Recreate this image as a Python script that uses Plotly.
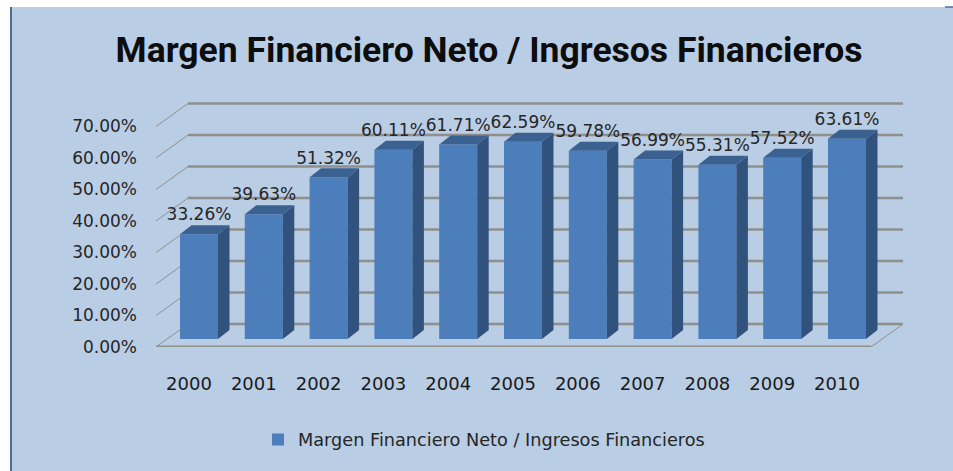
import plotly.graph_objects as go

years = [2000, 2001, 2002, 2003, 2004, 2005, 2006, 2007, 2008, 2009, 2010]
values = [33.26, 39.63, 51.32, 60.11, 61.71, 62.59, 59.78, 56.99, 55.31, 57.52, 63.61]
y_ticks = [0, 10, 20, 30, 40, 50, 60, 70]
series_name = "Margen Financiero Neto / Ingresos Financieros"

W, H = 953, 471
L, R, T, B = 156, 903, 90, 347
PX_Y = 3.15            # pixels per percentage point
PX_X = 64.8            # pixels per year
X0 = 2000 - (199 - L) / PX_X
X1 = X0 + (R - L) / PX_X
Y1 = (B - T) / PX_Y

WALL_DX, WALL_DY = 32 / PX_X, 23 / PX_Y       # floor depth
BASE = 8 / PX_Y                               # bars stand part-way into the floor
BAR_W = 38 / PX_X
BAR_DX, BAR_DY = 11.5 / PX_X, 9 / PX_Y        # bar depth
LABEL_UP = 18 / PX_Y
TICK_SHIFT = 10 / PX_X

FRONT, SIDE, TOP = "#4c7ebb", "#30527c", "#3a6190"
PANEL = "#b9cde5"
GRID = "#8f8f8c"
TEXT = "#262626"
FONT = "DejaVu Sans"


def px(x):
    return (x - L) / (R - L)


def py(y):
    return (B - y) / (B - T)


fig = go.Figure()
fig.add_bar(
    x=years, y=values, base=[BASE] * len(values), width=BAR_W,
    marker=dict(color=FRONT, line=dict(width=0)),
    name=series_name, showlegend=True, hoverinfo="skip",
)

for yr, v in zip(years, values):
    l, r = yr - BAR_W / 2, yr + BAR_W / 2
    t = BASE + v
    fig.add_scatter(x=[r, r + BAR_DX, r + BAR_DX, r, r], y=[BASE, BASE + BAR_DY, t + BAR_DY, t, BASE],
                    mode="lines", fill="toself", fillcolor=SIDE, line=dict(width=0),
                    showlegend=False, hoverinfo="skip")
    fig.add_scatter(x=[l, l + BAR_DX, r + BAR_DX, r, l], y=[t, t + BAR_DY, t + BAR_DY, t, t],
                    mode="lines", fill="toself", fillcolor=TOP, line=dict(width=0),
                    showlegend=False, hoverinfo="skip")

fig.add_scatter(
    x=years, y=[BASE + v + LABEL_UP for v in values],
    text=[f"{v:.2f}%" for v in values], mode="text", textposition="middle center",
    textfont=dict(family=FONT, size=17, color=TEXT), showlegend=False, hoverinfo="skip",
)

shapes = [
    dict(type="rect", xref="paper", yref="paper", x0=px(11), x1=px(W), y0=py(H), y1=py(7),
         fillcolor=PANEL, line=dict(width=0), layer="below"),
    dict(type="line", xref="paper", yref="paper", x0=px(11), x1=px(11), y0=py(H), y1=py(7),
         line=dict(color="#4a6d9c", width=2), layer="below"),
    dict(type="line", xref="paper", yref="paper", x0=px(945), x1=px(W), y0=py(7), y1=py(7),
         line=dict(color="#4a6d9c", width=1.5), layer="below"),
]
for v in y_ticks:
    shapes.append(dict(type="line", x0=X0, y0=v, x1=X0 + WALL_DX, y1=v + WALL_DY,
                       line=dict(color=GRID, width=1), layer="below"))
    shapes.append(dict(type="line", x0=X0 + WALL_DX, y0=v + WALL_DY, x1=X1, y1=v + WALL_DY,
                       line=dict(color=GRID, width=2.5), layer="below"))
floor_right = X1 - WALL_DX
shapes.append(dict(type="line", x0=X0, y0=0, x1=floor_right, y1=0,
                   line=dict(color=GRID, width=3), layer="below"))
shapes.append(dict(type="line", x0=floor_right, y0=0, x1=X1, y1=WALL_DY,
                   line=dict(color=GRID, width=1), layer="below"))

fig.update_layout(
    width=W, height=H,
    margin=dict(l=L, r=W - R, t=T, b=H - B, pad=0),
    paper_bgcolor="white", plot_bgcolor="rgba(0,0,0,0)",
    shapes=shapes,
    title=dict(text="<b>" + series_name + "</b>", x=489 / W, xanchor="center",
               y=1 - 50 / H, yanchor="middle",
               font=dict(family="Roboto", size=35.5, color="#0d0d0d")),
    legend=dict(orientation="h", x=px(258), xanchor="left", y=py(440), yanchor="middle",
                bgcolor="rgba(0,0,0,0)", font=dict(family=FONT, size=17.7, color=TEXT),
                itemclick=False, itemdoubleclick=False),
    xaxis=dict(range=[X0, X1], tickmode="array", tickvals=[y - TICK_SHIFT for y in years],
               ticktext=[str(y) for y in years], showgrid=False, zeroline=False, showline=False,
               ticks="", ticklabelstandoff=24, tickfont=dict(family=FONT, size=18, color="#1a1a1a")),
    yaxis=dict(range=[0, Y1], tickmode="array", tickvals=y_ticks,
               ticktext=[f"{v:.2f}%" for v in y_ticks], showgrid=False, zeroline=False, showline=False,
               ticks="", ticklabelstandoff=18, tickfont=dict(family=FONT, size=17, color=TEXT)),
)

fig.write_html("out.html", config=dict(displayModeBar=False),
               post_script="document.body.style.margin='0';")
